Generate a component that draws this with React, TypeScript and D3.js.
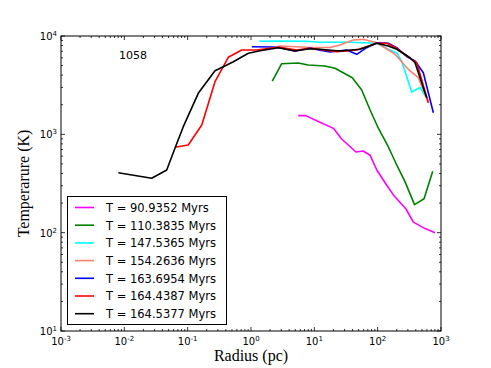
import React, { useEffect, useRef } from "react";
import * as d3 from "d3";

// series labels (legend order)
const labels = [
  "T = 90.9352 Myrs",
  "T = 110.3835 Myrs",
  "T = 147.5365 Myrs",
  "T = 154.2636 Myrs",
  "T = 163.6954 Myrs",
  "T = 164.4387 Myrs",
  "T = 164.5377 Myrs",
];
const colors = ["#ff00ff", "#008000", "#00ffff", "#fa8072", "#0000ff", "#ff0000", "#000000"];

// radius (pc), temperature (K)
const magentaR = [5.58, 7.3, 12.3, 20, 27, 45.5, 59, 76, 97, 131, 177, 280, 366, 560, 805];
const magentaT = [1550, 1550, 1325, 1150, 897, 661, 677, 612, 434, 322, 242, 174, 128, 110, 100];

const greenR = [2.17, 3.05, 5.58, 8.0, 14.7, 21.2, 39.8, 56, 76, 102, 147, 200, 270, 382, 540, 740];
const greenT = [3485, 5230, 5315, 5070, 4955, 4695, 3765, 2823, 1767, 1160, 748, 488, 330, 193, 221, 421];

const cyanR = [1.35, 2.87, 7.6, 12.3, 25.4, 36.6, 97, 147, 200, 240, 345, 467, 594];
const cyanT = [8835, 8890, 8835, 8630, 8630, 8630, 8430, 7325, 6765, 5505, 2695, 2995, 2340];

const salmonR = [2.7, 7.6, 17.7, 25.4, 40.8, 59.3, 97, 188, 305, 438, 635];
const salmonT = [7913, 7675, 7640, 8100, 9107, 9250, 8550, 6515, 4585, 3765, 2097];

const blueR = [1.03, 2.25, 2.87, 4.95, 8.55, 12.3, 17.7, 32.4, 46.7, 67, 97, 147, 200, 287, 389, 526, 757];
const blueT = [7785, 7730, 7605, 7035, 7550, 7155, 6875, 7205, 6515, 7605, 8550, 8430, 7605, 6190, 5570, 4235, 1660];

const redR = [0.063, 0.102, 0.167, 0.27, 0.438, 0.713, 1.23, 2.7, 5.27, 8.55, 22.6, 46.7, 97, 139, 200, 345, 414, 631];
const redT = [738, 779, 1244, 3430, 6070, 7205, 7205, 7700, 7205, 7495, 6920, 7205, 8430, 8430, 7495, 5795, 5350, 2097];

const blackR = [0.00804, 0.027, 0.0467, 0.063, 0.0853, 0.147, 0.27, 0.366, 0.526, 0.908, 1.39, 2.7, 4.95, 8.55, 12.3, 25.4, 52.6, 97, 147, 200, 324, 389, 594];
const blackT = [407, 357, 434, 721, 1196, 2614, 4437, 4875, 5480, 6670, 7085, 7605, 7035, 7430, 7325, 7035, 7325, 8430, 7913, 7325, 6015, 5350, 2358];

const seriesR = [magentaR, greenR, cyanR, salmonR, blueR, redR, blackR];
const seriesT = [magentaT, greenT, cyanT, salmonT, blueT, redT, blackT];

const xExps = [-3, -2, -1, 0, 1, 2, 3];
const yExps = [1, 2, 3, 4];
const annotation = "1058";

const App = () => {
  const ref = useRef<SVGSVGElement>(null);

  useEffect(() => {
    const width = 491;
    const height = 368;
    const left = 61, right = 441, top = 36, bottom = 331;
    const sans = "DejaVu Sans";
    const serif = "Liberation Serif";

    const svg = d3.select(ref.current);
    svg.selectAll("*").remove();
    svg.attr("width", width).attr("height", height);
    svg.append("rect").attr("width", width).attr("height", height).attr("fill", "white");

    const x = d3.scaleLog().domain([1e-3, 1e3]).range([left, right]);
    const y = d3.scaleLog().domain([10, 1e4]).range([bottom, top]);

    svg.append("defs").append("clipPath").attr("id", "plotclip")
      .append("rect").attr("x", left).attr("y", top)
      .attr("width", right - left).attr("height", bottom - top);

    // lines
    const line = d3.line<[number, number]>()
      .x((d) => x(d[0]))
      .y((d) => y(d[1]));

    const g = svg.append("g").attr("clip-path", "url(#plotclip)");
    seriesR.forEach((rs, i) => {
      const pts = rs.map((r, j) => [r, seriesT[i][j]] as [number, number]);
      g.append("path")
        .attr("d", line(pts))
        .attr("fill", "none")
        .attr("stroke", colors[i])
        .attr("stroke-width", 1.6)
        .attr("stroke-linejoin", "round");
    });

    // ticks (inside, on all four sides)
    const ticks = svg.append("g").attr("stroke", "black").attr("stroke-width", 0.8);
    xExps.forEach((e) => {
      const px = x(Math.pow(10, e));
      ticks.append("line").attr("x1", px).attr("x2", px).attr("y1", bottom).attr("y2", bottom - 4);
      ticks.append("line").attr("x1", px).attr("x2", px).attr("y1", top).attr("y2", top + 4);
      if (e < 3) {
        for (let m = 2; m <= 9; m++) {
          const mx = x(m * Math.pow(10, e));
          ticks.append("line").attr("x1", mx).attr("x2", mx).attr("y1", bottom).attr("y2", bottom - 2);
          ticks.append("line").attr("x1", mx).attr("x2", mx).attr("y1", top).attr("y2", top + 2);
        }
      }
    });
    yExps.forEach((e) => {
      const py = y(Math.pow(10, e));
      ticks.append("line").attr("x1", left).attr("x2", left + 4).attr("y1", py).attr("y2", py);
      ticks.append("line").attr("x1", right).attr("x2", right - 4).attr("y1", py).attr("y2", py);
      if (e < 4) {
        for (let m = 2; m <= 9; m++) {
          const my = y(m * Math.pow(10, e));
          ticks.append("line").attr("x1", left).attr("x2", left + 2).attr("y1", my).attr("y2", my);
          ticks.append("line").attr("x1", right).attr("x2", right - 2).attr("y1", my).attr("y2", my);
        }
      }
    });

    // frame
    svg.append("rect")
      .attr("x", left).attr("y", top)
      .attr("width", right - left).attr("height", bottom - top)
      .attr("fill", "none").attr("stroke", "black").attr("stroke-width", 1);

    // tick labels
    xExps.forEach((e) => {
      const t = svg.append("text")
        .attr("x", x(Math.pow(10, e)))
        .attr("y", bottom + 14)
        .attr("text-anchor", "middle")
        .attr("font-family", sans)
        .attr("font-size", 10);
      t.append("tspan").text("10");
      t.append("tspan").attr("dy", -4).attr("font-size", 7).text(String(e));
    });
    yExps.forEach((e) => {
      const t = svg.append("text")
        .attr("x", left - 4)
        .attr("y", y(Math.pow(10, e)) + 4)
        .attr("text-anchor", "end")
        .attr("font-family", sans)
        .attr("font-size", 10);
      t.append("tspan").text("10");
      t.append("tspan").attr("dy", -4).attr("font-size", 7).text(String(e));
    });

    // axis labels
    svg.append("text")
      .attr("x", (left + right) / 2)
      .attr("y", 361)
      .attr("text-anchor", "middle")
      .attr("font-family", serif)
      .attr("font-size", 16)
      .text("Radius (pc)");
    svg.append("text")
      .attr("transform", `translate(29,${(top + bottom) / 2}) rotate(-90)`)
      .attr("text-anchor", "middle")
      .attr("font-family", serif)
      .attr("font-size", 16)
      .text("Temperarure (K)");

    // annotation
    svg.append("text")
      .attr("x", 119)
      .attr("y", 59)
      .attr("font-family", sans)
      .attr("font-size", 11)
      .text(annotation);

    // legend
    const lg = svg.append("g");
    lg.append("rect")
      .attr("x", 67.5).attr("y", 196.5)
      .attr("width", 159).attr("height", 128)
      .attr("fill", "white").attr("stroke", "black").attr("stroke-width", 1);
    labels.forEach((lab, i) => {
      const ly = 207.5 + i * 17.7;
      lg.append("line")
        .attr("x1", 75).attr("x2", 94)
        .attr("y1", ly).attr("y2", ly)
        .attr("stroke", colors[i]).attr("stroke-width", 1.6);
      lg.append("text")
        .attr("x", 106)
        .attr("y", ly + 4.3)
        .attr("font-family", sans)
        .attr("font-size", 11.5)
        .text(lab);
    });
  }, []);

  return <svg ref={ref} style={{ position: "absolute", left: 0, top: 0 }} />;
};

export default App;
